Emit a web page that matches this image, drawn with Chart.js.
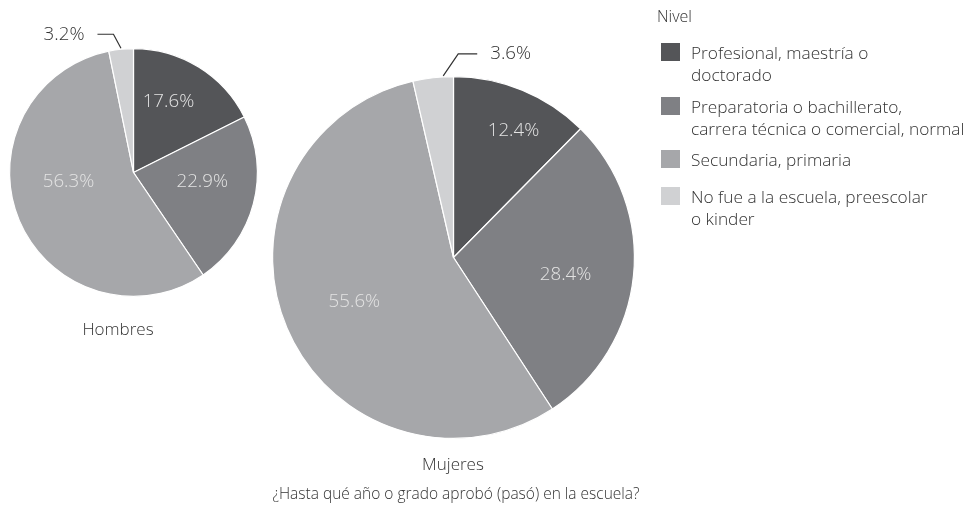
<!DOCTYPE html>
<html>
<head>
<meta charset="utf-8">
<script src="https://cdn.jsdelivr.net/npm/chart.js@4.4.1/dist/chart.umd.min.js"></script>
<style>
  body { margin: 0; background: #fff; font-family: "Open Sans", sans-serif; font-weight: 300; color: #333; }
  #wrap { position: relative; width: 977px; height: 506px; overflow: hidden; }
  canvas { position: absolute; left: 0; top: 0; }
  .t { position: absolute; font-size: 17px; white-space: nowrap; transform: translate(-50%, -50%); }
  .leg { position: absolute; left: 661px; font-size: 17.3px; line-height: 21.5px; }
  .sq { position: absolute; left: 0; top: 0; width: 19px; height: 18px; }
  .lt { position: absolute; left: 30px; top: -1px; white-space: nowrap; }
</style>
</head>
<body>
<div id="wrap">
  <canvas id="pieHombres" width="977" height="506"></canvas>
  <canvas id="pieMujeres" width="977" height="506"></canvas>
  <div class="t" style="left:118px;top:328px">Hombres</div>
  <div class="t" style="left:453px;top:463px">Mujeres</div>
  <div class="t" style="left:456px;top:493px;font-size:15.5px">¿Hasta qué año o grado aprobó (pasó) en la escuela?</div>
  <div class="t" style="left:657px;top:16px;transform:translate(0,-50%);font-size:16px">Nivel</div>
  <div id="legend"></div>
</div>
<script>
// categorias (niveles) y porcentajes
var niveles = [
  ['Profesional, maestría o', 'doctorado'],
  ['Preparatoria o bachillerato,', 'carrera técnica o comercial, normal'],
  ['Secundaria, primaria'],
  ['No fue a la escuela, preescolar', 'o kinder']
];
var hombres = [17.6, 22.9, 56.3, 3.2];
var mujeres = [12.4, 28.4, 55.6, 3.6];
var colores = ['#545558', '#7f8084', '#a6a7aa', '#d0d1d3'];

// legend
var legendTops = [43, 97, 150, 187];
var legend = document.getElementById('legend');
niveles.forEach(function(lines, i) {
  var d = document.createElement('div');
  d.className = 'leg';
  d.style.top = legendTops[i] + 'px';
  d.innerHTML = '<div class="sq" style="background:' + colores[i] + '"></div>' +
    '<div class="lt">' + lines.join('<br>') + '</div>';
  legend.appendChild(d);
});

// slice labels: inside ones at [radius factor, angle shift], small slice gets a leader line
var sliceLabels = {
  id: 'sliceLabels',
  afterDatasetsDraw: function(chart, args, opts) {
    var ctx = chart.ctx;
    var vals = chart.data.datasets[0].data;
    var meta = chart.getDatasetMeta(0);
    ctx.save();
    ctx.font = '300 18.7px "Open Sans", sans-serif';
    ctx.textBaseline = 'middle';
    meta.data.forEach(function(arc, i) {
      var p = arc.getProps(['x', 'y', 'startAngle', 'endAngle', 'outerRadius']);
      var txt = vals[i].toFixed(1) + '%';
      var place = opts.place[i];
      if (place) {
        var a = (p.startAngle + p.endAngle) / 2 + place[1] * Math.PI / 180;
        var r = p.outerRadius * place[0];
        ctx.fillStyle = '#e3e3e3';
        ctx.textAlign = 'center';
        ctx.fillText(txt, p.x + Math.cos(a) * r, p.y + Math.sin(a) * r);
      } else {
        var L = opts.leader;
        var a2 = p.startAngle + L.frac * (p.endAngle - p.startAngle);
        var x0 = p.x + Math.cos(a2) * (p.outerRadius + 1);
        var y0 = p.y + Math.sin(a2) * (p.outerRadius + 1);
        var x1 = x0 + L.dx, y1 = y0 + L.dy;
        var x2 = x1 + L.side * L.len;
        ctx.strokeStyle = '#333';
        ctx.lineWidth = 1.2;
        ctx.beginPath();
        ctx.moveTo(x0, y0);
        ctx.lineTo(x1, y1);
        ctx.lineTo(x2, y1);
        ctx.stroke();
        ctx.fillStyle = '#333';
        ctx.textAlign = L.side < 0 ? 'right' : 'left';
        ctx.fillText(txt, x2 + L.side * 13, y1);
      }
    });
    ctx.restore();
  }
};

function makePie(id, values, padding, place, leader) {
  return new Chart(document.getElementById(id), {
    type: 'pie',
    data: {
      labels: niveles.map(function(l) { return l.join(' '); }),
      datasets: [{
        data: values,
        backgroundColor: colores,
        borderColor: '#ffffff',
        borderWidth: 1.2
      }]
    },
    options: {
      responsive: false,
      animation: false,
      layout: { padding: padding },
      plugins: {
        legend: { display: false },
        tooltip: { enabled: false },
        sliceLabels: { place: place, leader: leader }
      }
    },
    plugins: [sliceLabels]
  });
}

makePie('pieHombres', hombres,
  { left: 9, right: 719, top: 48, bottom: 209 },
  [[0.635, -5.3], [0.56, -6.8], [0.53, 14.6], null],
  { frac: 0.5, dx: -7.5, dy: -14, len: 16, side: -1 });

makePie('pieMujeres', mujeres,
  { left: 272, right: 342, top: 76, bottom: 67 },
  [[0.776, 3], [0.627, 3.1], [0.6, -1], null],
  { frac: 0.75, dx: 15, dy: -22, len: 19, side: 1 });
</script>
</body>
</html>
